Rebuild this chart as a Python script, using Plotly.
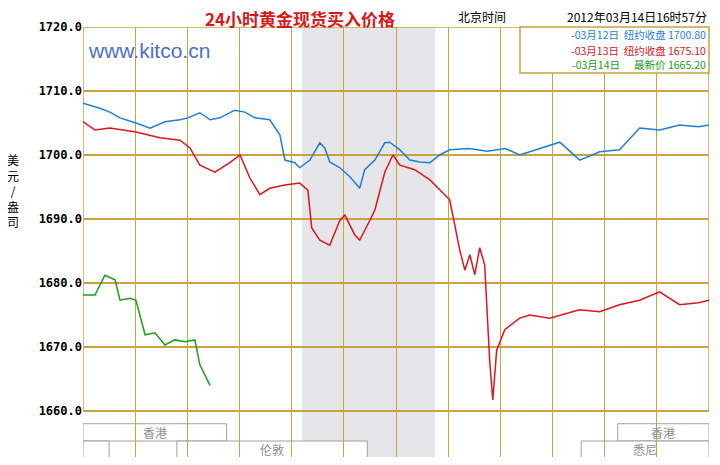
import plotly.graph_objects as go

# hours since start of the 24h window, price in USD/oz
BLUE_H = [0, 0.65, 1.03, 1.42, 2.03, 2.57, 3.14, 3.72, 4.02, 4.48, 4.87, 5.25, 5.82, 6.21, 6.59, 7.16,
          7.55, 7.74, 8.12, 8.31, 8.7, 9.08, 9.27, 9.46, 9.85, 10.23, 10.61, 10.8, 11.19, 11.57, 11.76,
          12.15, 12.53, 12.91, 13.3, 13.68, 14.06, 14.8, 15.5, 16.2, 16.74, 17.5, 18.28, 19.04, 19.81,
          20.57, 21.34, 22.11, 22.87, 23.6, 24]
BLUE_V = [1708.1, 1707.3, 1706.7, 1705.8, 1705.0, 1704.2, 1705.2, 1705.5, 1705.8, 1706.6, 1705.5, 1705.8,
          1707.0, 1706.7, 1705.8, 1705.5, 1703.1, 1699.2, 1698.8, 1698.0, 1699.2, 1701.9, 1701.1, 1698.9,
          1698.0, 1696.6, 1694.8, 1697.7, 1699.2, 1701.9, 1702.0, 1700.8, 1699.2, 1698.9, 1698.8, 1700.0,
          1700.8, 1701.0, 1700.6, 1701.0, 1700.0, 1701.0, 1702.0, 1699.2, 1700.5, 1700.8, 1704.2, 1703.9,
          1704.7, 1704.4, 1704.7]

RED_H = [0, 0.46, 1.03, 2.03, 2.95, 3.72, 4.1, 4.48, 5.06, 5.63, 6.02, 6.4, 6.78, 7.16, 7.74, 8.31, 8.62,
         8.77, 9.08, 9.46, 9.85, 10.04, 10.42, 10.61, 11.0, 11.19, 11.57, 11.88, 12.15, 12.72, 13.3, 13.68,
         14.06, 14.25, 14.44, 14.64, 14.83, 15.02, 15.21, 15.4, 15.59, 15.71, 15.86, 16.17, 16.74, 17.13,
         17.89, 19.04, 19.81, 20.57, 21.34, 22.11, 22.87, 23.6, 24]
RED_V = [1705.2, 1703.9, 1704.2, 1703.6, 1702.7, 1702.3, 1701.1, 1698.4, 1697.3, 1698.8, 1700.0, 1696.4,
         1693.8, 1694.8, 1695.3, 1695.6, 1694.5, 1688.6, 1686.7, 1685.9, 1689.8, 1690.6, 1687.5, 1686.7,
         1689.8, 1691.4, 1697.3, 1700.0, 1698.4, 1697.7, 1696.1, 1694.5, 1693.0, 1689.1, 1685.2, 1682.0,
         1684.4, 1681.3, 1685.5, 1682.8, 1668.0, 1661.7, 1669.5, 1672.7, 1674.5, 1675.0, 1674.5, 1675.8,
         1675.5, 1676.6, 1677.3, 1678.6, 1676.6, 1676.9, 1677.3]

GREEN_H = [0, 0.46, 0.84, 1.23, 1.42, 1.8, 2.03, 2.38, 2.76, 3.14, 3.52, 3.91, 4.29, 4.48, 4.87]
GREEN_V = [1678.1, 1678.1, 1681.2, 1680.5, 1677.3, 1677.6, 1677.3, 1671.9, 1672.2, 1670.3, 1671.1,
           1670.8, 1671.1, 1667.2, 1664.0]

Y_TICKS = [1660, 1670, 1680, 1690, 1700, 1710, 1720]

LEGEND_ROWS = [('-03月12日  纽约收盘 1700.80', '#1f7fd8'),
               ('-03月13日  纽约收盘 1675.10', '#e0141c'),
               ('-03月14日      最新价 1665.20', '#18a018')]

# trading sessions: (label, start hour, end hour, row bottom, row top)
SESSIONS = [('香港', 0, 5.5, 1655.3, 1658.0), ('香港', 20.5, 24, 1655.3, 1658.0),
            ('', 0, 1, 1652.7, 1655.3), ('伦敦', 3.6, 10.9, 1652.7, 1655.3),
            ('悉尼', 19.1, 24, 1652.7, 1655.3),
            ('纽约Globex', 0, 5.3, 1650, 1652.7), ('纽约NYMEX', 8.4, 13.5, 1650, 1652.7),
            ('纽约Globex', 14.0, 17.2, 1650, 1652.7), ('纽约Globex', 18.0, 24, 1650, 1652.7)]

GOLD = '#c8a43c'
PW, PH = 626, 430  # plot size in px
HDR_Y = 1 + 10 / PH

fig = go.Figure()
for h, v, c in [(BLUE_H, BLUE_V, '#1f7fd8'), (RED_H, RED_V, '#e0141c'), (GREEN_H, GREEN_V, '#18a018')]:
    fig.add_trace(go.Scatter(x=h, y=v, mode='lines', line=dict(color=c, width=1.5), showlegend=False))

shapes = [dict(type='rect', xref='x', yref='y', x0=8.4, x1=13.5, y0=1650, y1=1720,
               fillcolor='#e6e6ea', line_width=0, layer='below'),
          dict(type='rect', xref='x', yref='y', x0=0, x1=24, y0=1660, y1=1720,
               line=dict(color=GOLD, width=1.5), layer='below'),
          dict(type='rect', xref='paper', yref='paper', x0=(520 - 83) / PW, x1=1, y0=1 - 46 / PH, y1=1,
               fillcolor='white', line=dict(color=GOLD, width=1.5))]
annotations = []
for name, a, b, lo, hi in SESSIONS:
    shapes.append(dict(type='rect', xref='x', yref='y', x0=a, x1=b, y0=lo, y1=hi,
                       line=dict(color='#a0a0a0', width=1), fillcolor='white', layer='below'))
    if name:
        annotations.append(dict(x=(a + b) / 2, y=(lo + hi) / 2, xref='x', yref='y', text=name,
                                showarrow=False, font=dict(size=12, color='#909090')))

for i, (txt, col) in enumerate(LEGEND_ROWS):
    annotations.append(dict(x=0.998, y=1 - (8 + 15 * i) / PH, xref='paper', yref='paper', xanchor='right',
                            yanchor='middle', text=txt, showarrow=False, font=dict(size=10.5, color=col)))

annotations += [
    dict(x=(300 - 83) / PW, y=1 + 9 / PH, xref='paper', yref='paper', text='<b>24小时黄金现货买入价格</b>',
         yanchor='middle', showarrow=False, font=dict(size=17, color='#d81818', family='Noto Sans CJK SC')),
    dict(x=(508 - 83) / PW, y=HDR_Y, xref='paper', yref='paper', text='北京时间', showarrow=False,
         xanchor='right', yanchor='middle', font=dict(size=12, color='black', family='Noto Sans CJK SC')),
    dict(x=1, y=HDR_Y, xref='paper', yref='paper', text='2012年03月14日16时57分', xanchor='right',
         yanchor='middle', showarrow=False, font=dict(size=12, color='black', family='Noto Sans CJK SC')),
    dict(x=0.005, y=1 - 23 / PH, xref='paper', yref='paper', text='www.kitco.cn', showarrow=False,
         xanchor='left', yanchor='middle', font=dict(size=21, color='#4a6fd0', family='Liberation Sans')),
    dict(x=-0.125, y=0.62, xref='paper', yref='paper', text='美<br>元<br>/<br>盎<br>司', showarrow=False,
         font=dict(size=12, color='black', family='Noto Sans CJK SC')),
]

# page body adds an 8px offset, so the figure is 704x449 and margins are shifted
fig.update_layout(
    width=704, height=449, margin=dict(l=75, r=3, t=19, b=0, autoexpand=False),
    paper_bgcolor='white', plot_bgcolor='white',
    shapes=shapes, annotations=annotations,
    xaxis=dict(range=[0, 24], dtick=2, tick0=0, showticklabels=False, showgrid=True, gridcolor=GOLD,
               gridwidth=1.2, zeroline=False, showline=False, automargin=False),
    yaxis=dict(range=[1652.8, 1720], tickvals=Y_TICKS, ticktext=[f'<b>{v:.1f}</b>' for v in Y_TICKS],
               showgrid=True, gridcolor=GOLD, gridwidth=1.5, zeroline=False, showline=False, automargin=False,
               tickfont=dict(size=12, family='DejaVu Sans Mono', color='black'), ticks=''),
    font=dict(family='Noto Sans CJK SC'),
)

fig.write_html('out.html')
